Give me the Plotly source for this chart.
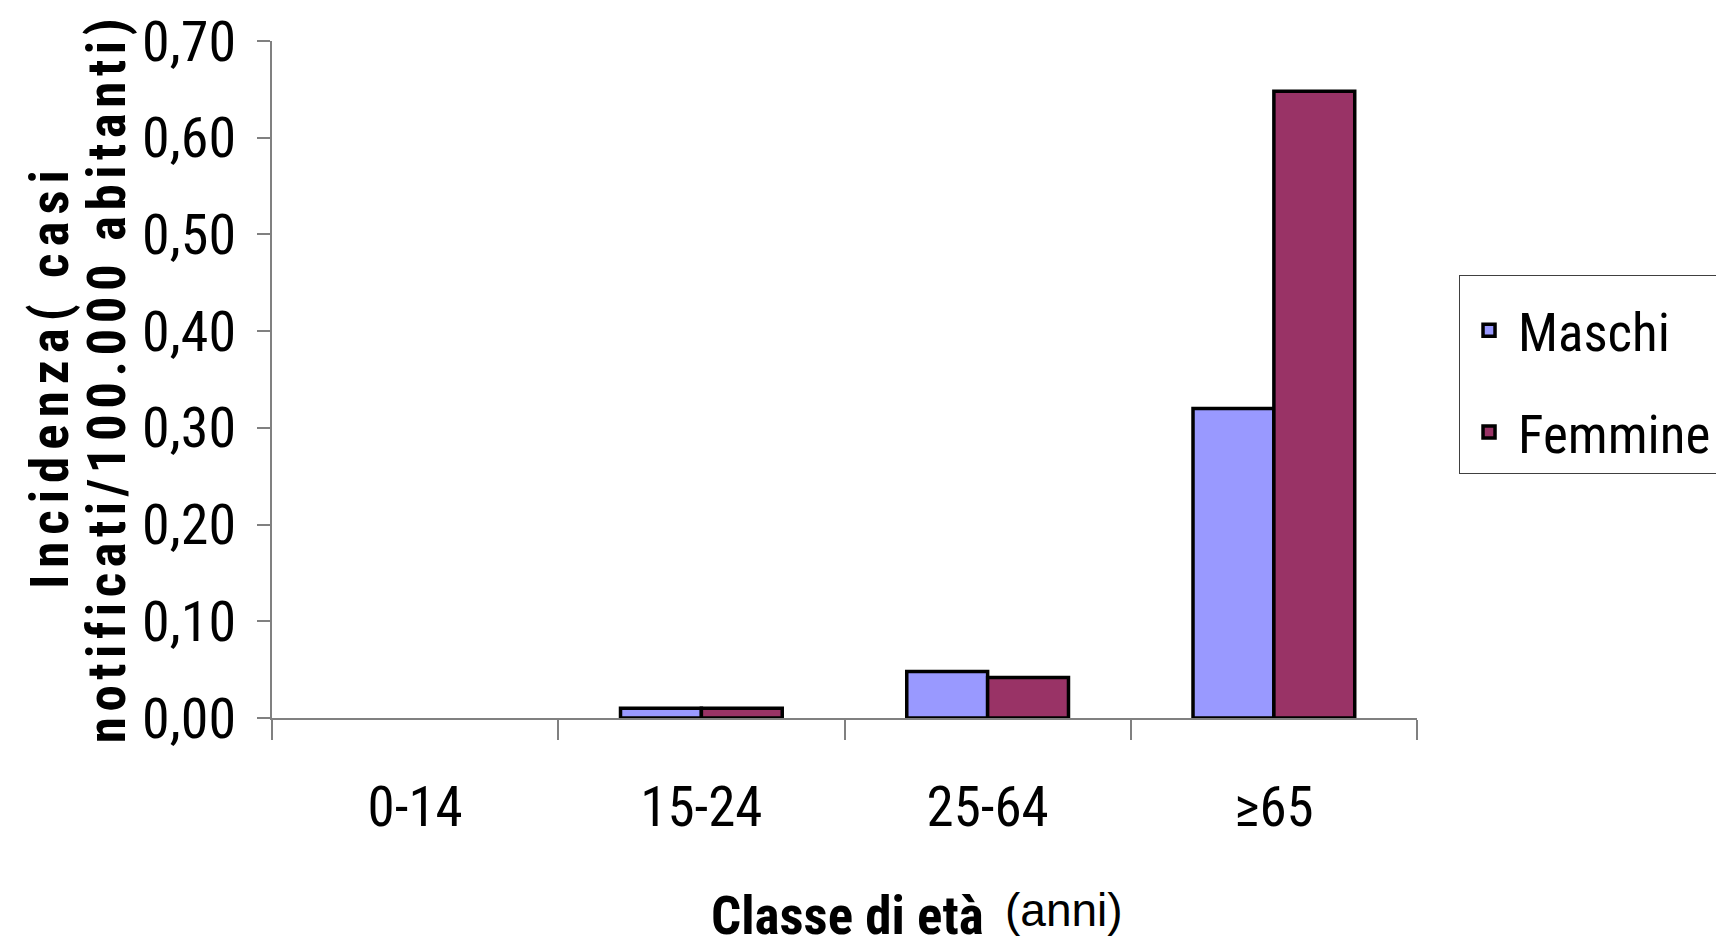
import plotly.graph_objects as go

categories = ["0-14", "15-24", "25-64", "≥65"]
maschi = [0.0, 0.01, 0.048, 0.32]
femmine = [0.0, 0.01, 0.042, 0.648]
y_ticks = [0.0, 0.1, 0.2, 0.3, 0.4, 0.5, 0.6, 0.7]
y_tick_labels = ["0,00", "0,10", "0,20", "0,30", "0,40", "0,50", "0,60", "0,70"]
series = [("Maschi", maschi, "#9999FF"), ("Femmine", femmine, "#993366")]

COND = "Roboto Condensed, Liberation Sans Narrow, Arial Narrow, sans-serif"
OUTLINE = 3.5

fig = go.Figure()
for name, vals, color in series:
    # data bars: no outline on empty (zero) bars
    fig.add_trace(go.Bar(x=categories, y=vals, name=name, offsetgroup=name, showlegend=False,
                         marker=dict(color=color, line=dict(color="black",
                                     width=[OUTLINE if v > 0 else 0 for v in vals]))))
for name, vals, color in series:
    # legend entries
    fig.add_trace(go.Bar(x=[None], y=[None], name=name, offsetgroup=name, legendgroup=name,
                         marker=dict(color=color, line=dict(color="black", width=OUTLINE))))

fig.update_layout(
    width=1716, height=939,
    margin=dict(l=264, r=307, t=33, b=229, autoexpand=False),
    plot_bgcolor="white", paper_bgcolor="white",
    barmode="group", bargap=0.435, bargroupgap=0,
    font=dict(family=COND, color="black"),
    legend=dict(x=1.0367, y=0.654, xanchor="left", yanchor="top",
                bgcolor="white", bordercolor="#404040", borderwidth=1,
                font=dict(family=COND, size=53, color="black"),
                tracegroupgap=30, itemwidth=48,
                title=dict(text=" ", font=dict(size=10))),
    xaxis=dict(showline=True, linecolor="#808080", linewidth=1.5, automargin=False,
               ticks="outside", tickson="boundaries", ticklen=20, tickcolor="#808080",
               tickwidth=1.5, tickfont=dict(family=COND, size=55, color="black"),
               ticklabelstandoff=40, showgrid=False, zeroline=False),
    yaxis=dict(range=[0, 0.7], showline=True, linecolor="#808080", linewidth=1.5, automargin=False,
               ticks="outside", ticklen=13, tickcolor="#808080", tickwidth=1.5,
               tickvals=y_ticks, ticktext=y_tick_labels,
               tickfont=dict(family=COND, size=56, color="black"),
               ticklabelstandoff=10, showgrid=False, zeroline=False),
)

fig.add_annotation(text="<b><span style='letter-spacing:7px'>Incidenza( casi</span></b>",
                   xref="paper", yref="paper", x=-0.1939, y=0.505, textangle=-90,
                   showarrow=False, xanchor="center", yanchor="middle",
                   font=dict(family=COND, size=53, color="black"))
fig.add_annotation(text="<b><span style='letter-spacing:5.5px'>notificati/100.000 abitanti)</span></b>",
                   xref="paper", yref="paper", x=-0.1441, y=0.502, textangle=-90,
                   showarrow=False, xanchor="center", yanchor="middle",
                   font=dict(family=COND, size=53, color="black"))
fig.add_annotation(text="<b>Classe di età</b>", xref="paper", yref="paper",
                   x=0.503, y=-0.293, showarrow=False, xanchor="center", yanchor="middle",
                   font=dict(family=COND, size=53, color="black"))
fig.add_annotation(text="(anni)", xref="paper", yref="paper",
                   x=0.692, y=-0.2836, showarrow=False, xanchor="center", yanchor="middle",
                   font=dict(family="Liberation Sans, Arial, sans-serif", size=46, color="black"))

fig.write_html("out.html")
